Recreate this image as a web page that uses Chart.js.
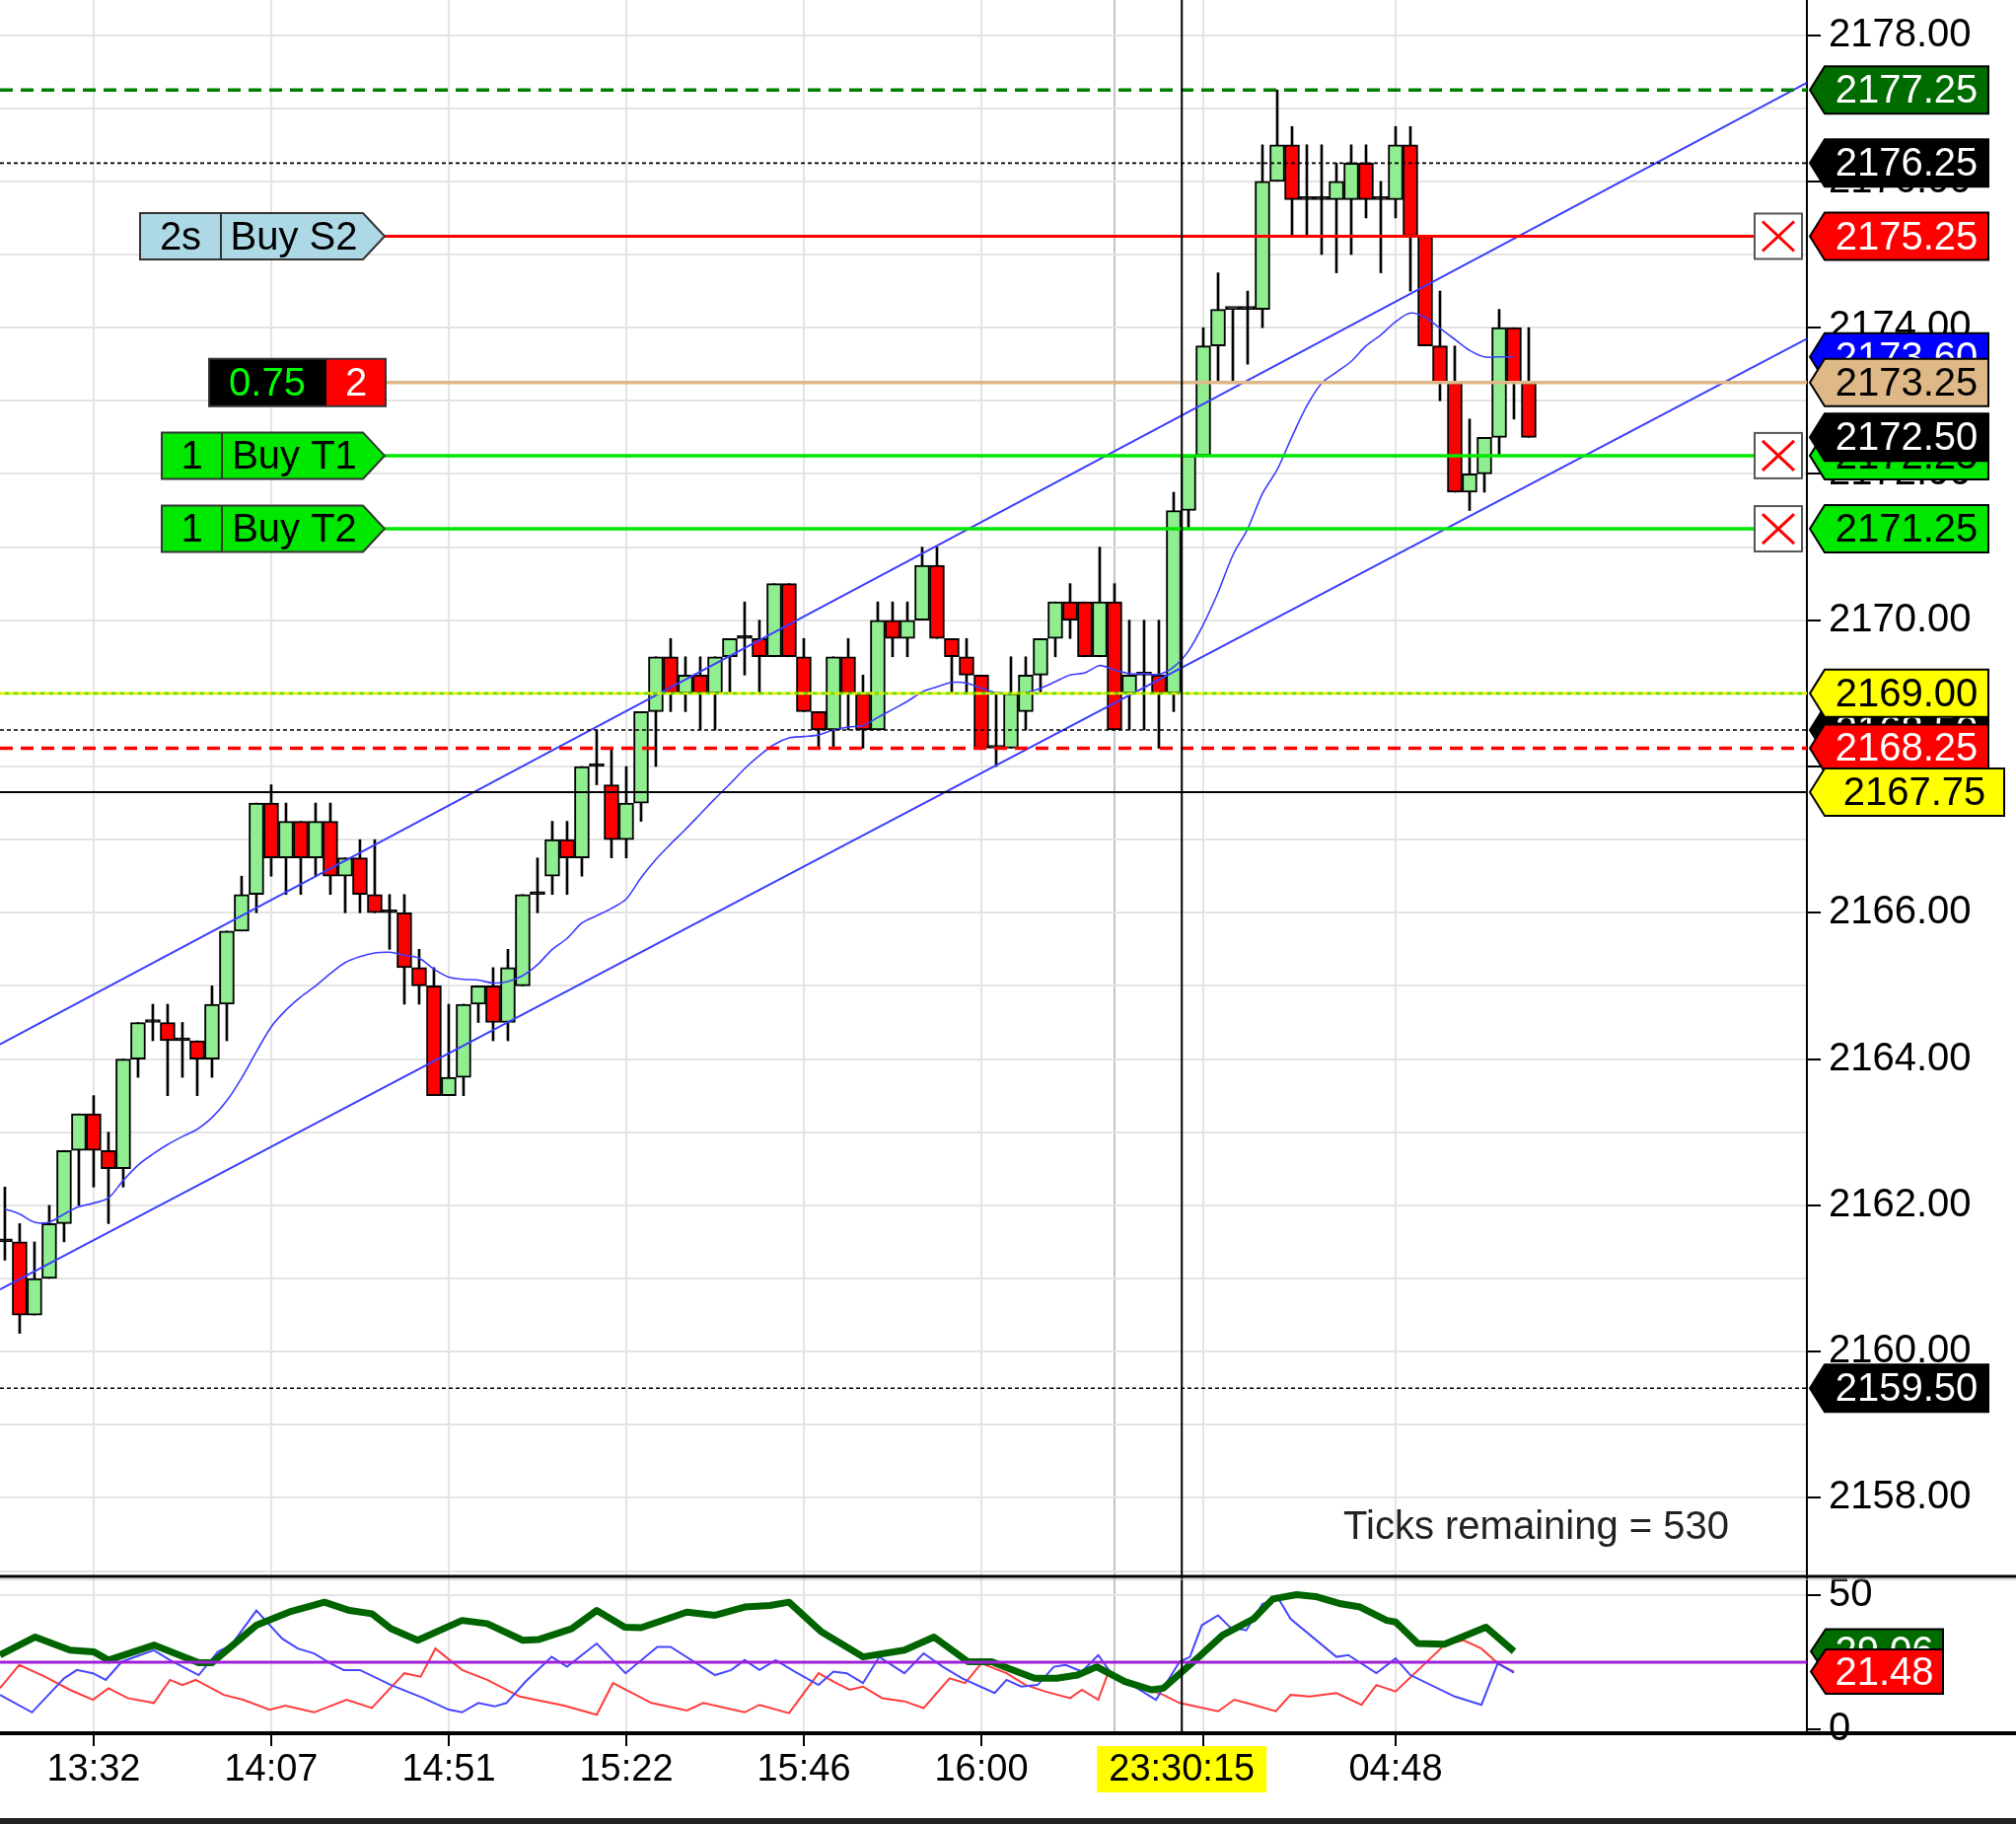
<!DOCTYPE html>
<html>
<head>
<meta charset="utf-8">
<title>ES tick chart</title>
<script src="https://cdn.jsdelivr.net/npm/chart.js@4.4.1/dist/chart.umd.min.js"></script>
<style>
  html, body { margin: 0; padding: 0; background: #fff; }
  #wrap { width: 2044px; height: 1849px; position: relative; }
</style>
</head>
<body>
<div id="wrap"><canvas id="chart"></canvas></div>
<script>
"use strict";

// bars, index 0 is the one cut by the left edge
const opens = [
  2161.5, 2161.5, 2160.5, 2161.0, 2161.75, 2162.75, 2163.25, 2162.75, 2162.5, 2164.0,
  2164.5, 2164.5, 2164.25, 2164.25, 2164.0, 2164.75, 2165.75, 2166.25, 2167.5, 2166.75,
  2167.25, 2166.75, 2167.25, 2166.5, 2166.75, 2166.25, 2166.0, 2166.0, 2165.25, 2165.0,
  2163.5, 2163.75, 2164.75, 2165.0, 2164.5, 2165.0, 2166.25, 2166.5, 2167.0, 2166.75,
  2168.0, 2167.75, 2167.0, 2167.5, 2168.75, 2169.5, 2169.0, 2169.25, 2169.0, 2169.5,
  2169.75, 2169.75, 2169.5, 2170.5, 2169.5, 2168.75, 2168.5, 2169.5, 2169.0, 2168.5,
  2170.0, 2169.75, 2170.0, 2170.75, 2169.75, 2169.5, 2169.25, 2168.25, 2168.25, 2168.75,
  2169.25, 2169.75, 2170.25, 2170.25, 2169.5, 2170.25, 2169.0, 2169.25, 2169.25, 2169.0,
  2171.5, 2172.25, 2173.75, 2174.25, 2174.25, 2174.25, 2176.0, 2176.5, 2175.75, 2175.75,
  2175.75, 2175.75, 2176.25, 2175.75, 2175.75, 2176.5, 2175.25, 2173.75, 2173.25, 2171.75,
  2172.0, 2172.5, 2174.0, 2173.25
];
const highs = [
  2162.25, 2161.75, 2161.5, 2162.0, 2162.75, 2163.25, 2163.5, 2163.0, 2164.0, 2164.5,
  2164.75, 2164.75, 2164.5, 2164.25, 2165.0, 2165.75, 2166.5, 2167.5, 2167.75, 2167.5,
  2167.25, 2167.5, 2167.5, 2166.75, 2167.0, 2167.0, 2166.25, 2166.25, 2165.5, 2165.25,
  2164.75, 2164.75, 2165.0, 2165.25, 2165.5, 2166.25, 2166.75, 2167.25, 2167.25, 2168.0,
  2168.5, 2168.25, 2168.0, 2168.75, 2169.5, 2169.75, 2169.5, 2169.5, 2169.5, 2169.75,
  2170.25, 2170.0, 2170.5, 2170.5, 2169.75, 2168.75, 2169.5, 2169.75, 2169.25, 2170.25,
  2170.25, 2170.25, 2171.0, 2171.0, 2169.75, 2169.75, 2169.25, 2169.0, 2169.5, 2169.5,
  2169.75, 2170.25, 2170.5, 2170.25, 2171.0, 2170.5, 2170.0, 2170.0, 2170.0, 2171.75,
  2172.25, 2174.0, 2174.75, 2174.25, 2174.5, 2176.5, 2177.25, 2176.75, 2176.5, 2176.5,
  2176.25, 2176.5, 2176.5, 2176.0, 2176.75, 2176.75, 2175.25, 2174.5, 2173.75, 2172.75,
  2172.5, 2174.25, 2174.0, 2174.0
];
const lows = [
  2161.25, 2160.25, 2160.5, 2161.0, 2161.5, 2162.0, 2162.25, 2161.75, 2162.25, 2163.75,
  2164.25, 2163.5, 2163.75, 2163.5, 2163.75, 2164.25, 2165.75, 2166.0, 2166.5, 2166.25,
  2166.25, 2166.5, 2166.25, 2166.0, 2166.0, 2166.0, 2165.5, 2164.75, 2164.75, 2163.5,
  2163.5, 2163.5, 2164.5, 2164.25, 2164.25, 2165.0, 2166.0, 2166.25, 2166.25, 2166.5,
  2167.75, 2166.75, 2166.75, 2167.25, 2168.0, 2168.75, 2168.75, 2168.5, 2168.5, 2169.0,
  2169.25, 2169.0, 2169.5, 2169.5, 2168.75, 2168.25, 2168.25, 2168.5, 2168.25, 2168.5,
  2169.5, 2169.5, 2170.0, 2169.75, 2169.0, 2169.0, 2168.25, 2168.0, 2168.25, 2168.5,
  2169.0, 2169.5, 2169.75, 2169.5, 2169.5, 2168.5, 2168.5, 2168.5, 2168.25, 2168.75,
  2171.25, 2172.25, 2173.25, 2173.25, 2173.5, 2174.0, 2176.0, 2175.25, 2175.25, 2175.0,
  2174.75, 2175.0, 2175.5, 2174.75, 2175.5, 2174.5, 2173.75, 2173.0, 2171.75, 2171.5,
  2171.75, 2172.25, 2172.75, 2172.5
];
const closes = [
  2161.5, 2160.5, 2161.0, 2161.75, 2162.75, 2163.25, 2162.75, 2162.5, 2164.0, 2164.5,
  2164.5, 2164.25, 2164.25, 2164.0, 2164.75, 2165.75, 2166.25, 2167.5, 2166.75, 2167.25,
  2166.75, 2167.25, 2166.5, 2166.75, 2166.25, 2166.0, 2166.0, 2165.25, 2165.0, 2163.5,
  2163.75, 2164.75, 2165.0, 2164.5, 2165.25, 2166.25, 2166.25, 2167.0, 2166.75, 2168.0,
  2168.0, 2167.0, 2167.5, 2168.75, 2169.5, 2169.0, 2169.25, 2169.0, 2169.5, 2169.75,
  2169.75, 2169.5, 2170.5, 2169.5, 2168.75, 2168.5, 2169.5, 2169.0, 2168.5, 2170.0,
  2169.75, 2170.0, 2170.75, 2169.75, 2169.5, 2169.25, 2168.25, 2168.25, 2169.0, 2169.25,
  2169.75, 2170.25, 2170.0, 2169.5, 2170.25, 2168.5, 2169.25, 2169.25, 2169.0, 2171.5,
  2172.25, 2173.75, 2174.25, 2174.25, 2174.25, 2176.0, 2176.5, 2175.75, 2175.75, 2175.75,
  2176.0, 2176.25, 2175.75, 2175.75, 2176.5, 2175.25, 2173.75, 2173.25, 2171.75, 2172.0,
  2172.5, 2174.0, 2173.25, 2172.5
];

// blue average, one value per bar
const maVals = [
  2161.95, 2161.88, 2161.77, 2161.77, 2161.88, 2161.98, 2162.03, 2162.1, 2162.34, 2162.55,
  2162.7, 2162.83, 2162.94, 2163.04, 2163.2, 2163.43, 2163.74, 2164.1, 2164.44, 2164.67,
  2164.85, 2165.0, 2165.17, 2165.32, 2165.4, 2165.45, 2165.46, 2165.42, 2165.38, 2165.23,
  2165.12, 2165.09, 2165.08, 2165.04, 2165.06, 2165.14, 2165.29, 2165.5, 2165.65, 2165.86,
  2165.96, 2166.06, 2166.19, 2166.48, 2166.73, 2166.94, 2167.14, 2167.35, 2167.56, 2167.76,
  2167.97, 2168.15, 2168.3, 2168.39, 2168.41, 2168.43, 2168.5, 2168.54, 2168.56, 2168.67,
  2168.78, 2168.89, 2169.02, 2169.09, 2169.15, 2169.14, 2169.07, 2169.01, 2169.0, 2169.01,
  2169.07, 2169.16, 2169.25, 2169.28, 2169.38, 2169.32, 2169.27, 2169.27, 2169.26, 2169.36,
  2169.58, 2169.94, 2170.38, 2170.89, 2171.25, 2171.73, 2172.06, 2172.51, 2172.93, 2173.24,
  2173.39, 2173.54, 2173.75, 2173.9, 2174.08, 2174.2, 2174.14, 2173.99, 2173.84, 2173.69,
  2173.6, 2173.6, 2173.6
];

// regression channel, two ends each
const channelX = [-0.33, 121.8];
const channelUpper = [2164.2, 2177.35];
const channelLower = [2160.85, 2173.85];

// time axis
const timeTickIdx = [6, 18, 30, 42, 54, 66, 75, 81, 94];
const timeTickText = ["13:32", "14:07", "14:51", "15:22", "15:46", "16:00", "", "", "04:48"];

// crosshair
const crossIdx = 79.55;
const crossPrice = 2167.65;
const crossPriceText = "2167.75";
const crossTimeText = "23:30:15";

// lower panel: ADX, +DI, -DI vertices (bar index, value)
const adxX = [-0.33, 2.05, 4.4, 6.0, 7.0, 10.1, 13.1, 14.0, 17.0, 19.2, 21.6, 23.3, 24.8, 26.1, 27.9, 30.9,
  32.6, 35.0, 36.1, 38.3, 40.0, 41.9, 43.0, 46.1, 48.0, 50.0, 51.7, 53.0, 55.2, 58.0, 60.8, 62.8, 65.1, 66.7,
  67.7, 69.6, 71.1, 72.5, 73.8, 75.7, 77.5, 78.3, 80.7, 82.3, 84.4, 85.7, 87.3, 88.6, 90.3, 91.6, 93.4, 94.0,
  95.5, 97.3, 100.1, 102.0];
const adxY = [27.7, 34.4, 29.5, 28.9, 25.8, 31.4, 24.8, 24.8, 38.8, 43.7, 47.4, 44.3, 43.1, 37.5, 33.2, 40.6,
  39.4, 33.2, 33.5, 37.5, 44.3, 38.1, 37.9, 43.7, 42.5, 45.6, 46.2, 47.4, 36.3, 27.0, 29.5, 34.4, 25.2, 25.2,
  23.0, 19.0, 19.0, 20.2, 23.3, 17.8, 14.7, 15.3, 27.0, 35.1, 41.2, 48.6, 50.2, 49.5, 46.8, 45.6, 40.6, 40.0,
  32.0, 31.7, 38.1, 29.06];
const plusDiX = [-0.33, 1.83, 4.0, 4.87, 5.95, 6.82, 7.9, 10.07, 11.16, 13.1, 14.4, 15.3, 17.0, 18.75, 19.8,
  20.9, 22.0, 22.9, 24.0, 26.1, 28.3, 30.0, 30.9, 32.0, 33.1, 33.9, 35.2, 36.96, 38.0, 40.0, 41.95, 44.1, 45.0,
  48.0, 49.1, 50.0, 51.0, 52.1, 53.4, 55.0, 56.0, 56.9, 58.0, 59.1, 60.8, 62.1, 63.4, 64.7, 66.9, 67.7, 68.7,
  69.8, 70.9, 71.7, 72.8, 73.9, 74.7, 77.8, 79.4, 80.1, 80.9, 82.0, 82.8, 83.9, 85.0, 86.1, 86.9, 90.0, 90.8,
  92.7, 94.0, 95.0, 98.0, 99.8, 100.9, 102.0];
const plusDiY = [12.8, 6.3, 19.0, 22.1, 20.9, 18.4, 25.2, 29.5, 25.8, 20.2, 28.9, 31.4, 44.3, 33.8, 30.1,
  28.3, 24.6, 22.1, 22.1, 16.5, 11.6, 7.3, 6.3, 9.8, 8.5, 9.8, 17.8, 27.0, 23.3, 32.0, 20.9, 30.7, 30.7,
  20.2, 22.1, 25.8, 22.1, 25.8, 21.5, 16.5, 21.5, 20.9, 17.2, 27.0, 20.9, 28.3, 23.3, 19.0, 13.5, 18.4, 15.9,
  16.5, 23.3, 24.0, 21.5, 27.7, 21.5, 11.0, 25.2, 27.0, 38.8, 42.5, 38.1, 36.9, 46.8, 48.6, 41.2, 27.0, 27.7,
  20.9, 26.4, 20.2, 12.2, 9.1, 24.6, 21.1];
const minusDiX = [-0.33, 0.97, 2.7, 4.4, 5.95, 7.0, 8.3, 10.07, 11.16, 12.0, 12.9, 14.8, 16.1, 17.9, 18.96,
  20.9, 23.1, 24.8, 27.0, 28.1, 29.1, 30.9, 32.6, 34.8, 37.8, 40.0, 41.1, 43.7, 46.1, 47.2, 50.0, 51.0, 53.0,
  55.0, 56.0, 57.1, 58.0, 59.3, 60.8, 62.1, 63.85, 64.9, 66.0, 67.7, 69.0, 70.3, 72.0, 72.8, 73.9, 74.6, 76.4,
  78.3, 79.4, 82.0, 83.1, 84.4, 85.9, 86.9, 88.2, 90.0, 91.7, 92.7, 94.0, 97.3, 98.6, 99.8, 100.9, 102.0];
const minusDiY = [15.3, 24.0, 19.6, 14.7, 11.0, 15.3, 11.6, 9.8, 18.4, 16.5, 18.4, 12.8, 11.0, 7.3, 8.8,
  6.3, 11.0, 7.9, 20.9, 19.6, 30.1, 22.1, 18.4, 12.2, 8.8, 5.4, 17.2, 9.8, 7.0, 9.8, 6.3, 9.1, 6.0,
  20.9, 17.8, 14.7, 15.9, 11.6, 10.4, 7.9, 19.0, 17.2, 24.6, 20.9, 16.5, 14.1, 11.6, 14.7, 11.0, 21.5, 16.5,
  12.8, 9.8, 6.7, 11.0, 9.1, 6.7, 12.8, 12.2, 13.5, 9.1, 16.5, 14.1, 31.4, 33.2, 30.1, 24.6, 21.48];
const dmiLevel = 25;
const dmiTicks = [0, 50];

// horizontal price levels
const levelPrices = [2177.25, 2176.25, 2169.00, 2168.50, 2168.25, 2159.50];
// working orders: S2 stop, position, T1, T2
const orderPrices = [2175.25, 2173.25, 2172.25, 2171.25];
// right hand price tags, in drawing order
const tagPrices = [2177.25, 2176.25, 2175.25, 2173.60, 2173.25, 2172.25, 2172.50, 2171.25, 2168.50, 2169.00, 2168.25, 2159.50];
const dmiTagValues = [29.06, 21.48];
const ticksRemaining = 530;

const FONT = '"Liberation Sans", Arial, Helvetica, sans-serif';
Chart.defaults.font.family = FONT;
Chart.defaults.color = "#000";

const levelStyles = [
  { color: "#008000", width: 3.5, dash: [13, 8] },
  { color: "#000000", width: 1.6, dash: [4, 3] },
  { color: "#e4f000", width: 2.6, dash: [5, 4], under: "#66dd00" },
  { color: "#000000", width: 1.6, dash: [4, 3] },
  { color: "#ff0000", width: 3.5, dash: [13, 8] },
  { color: "#000000", width: 1.6, dash: [4, 3] }
];
const tagStyles = [
  ["#006c00", "#fff"], ["#000", "#fff"], ["#ff0000", "#fff"], ["#0000ff", "#fff"],
  ["#deb887", "#000"], ["#00e800", "#000"], ["#000", "#fff"], ["#00e800", "#000"],
  ["#000", "#fff"], ["#ffff00", "#000"], ["#ff0000", "#fff"], ["#000", "#fff"]
];

function hLine(c, x0, x1, y, color, width, dash, offset) {
  c.save();
  c.beginPath();
  c.setLineDash(dash || []);
  c.lineDashOffset = offset || 0;
  c.strokeStyle = color;
  c.lineWidth = width;
  c.moveTo(x0, y);
  c.lineTo(x1, y);
  c.stroke();
  c.restore();
}

function priceTag(c, x, y, text, bg, fg, w, h) {
  const tip = 15;
  c.save();
  c.beginPath();
  c.moveTo(x, y);
  c.lineTo(x + tip, y - h / 2);
  c.lineTo(x + w, y - h / 2);
  c.lineTo(x + w, y + h / 2);
  c.lineTo(x + tip, y + h / 2);
  c.closePath();
  c.fillStyle = bg;
  c.fill();
  c.lineWidth = 2;
  c.strokeStyle = "#000";
  c.stroke();
  c.fillStyle = fg;
  c.font = "40px " + FONT;
  c.textAlign = "center";
  c.textBaseline = "middle";
  c.fillText(text, x + tip + (w - tip) / 2, y + 2);
  c.restore();
}

function orderTag(c, y, x0, split, tip, bg, left, right) {
  const h = 47, corner = tip - 22;
  c.save();
  c.beginPath();
  c.moveTo(x0, y - h / 2);
  c.lineTo(corner, y - h / 2);
  c.lineTo(tip, y);
  c.lineTo(corner, y + h / 2);
  c.lineTo(x0, y + h / 2);
  c.closePath();
  c.fillStyle = bg;
  c.fill();
  c.lineWidth = 2;
  c.strokeStyle = "#333";
  c.stroke();
  c.beginPath();
  c.moveTo(split, y - h / 2);
  c.lineTo(split, y + h / 2);
  c.stroke();
  c.fillStyle = "#000";
  c.font = "40px " + FONT;
  c.textAlign = "center";
  c.textBaseline = "middle";
  c.fillText(left, (x0 + split) / 2, y + 2);
  c.fillText(right, (split + corner) / 2 + 2, y + 2);
  c.restore();
}

function cancelBox(c, x, y) {
  const w = 48, h = 46, p = 8;
  c.save();
  c.fillStyle = "#fff";
  c.fillRect(x, y - h / 2, w, h);
  c.lineWidth = 2;
  c.strokeStyle = "#555";
  c.strokeRect(x, y - h / 2, w, h);
  c.strokeStyle = "#ff0000";
  c.lineWidth = 3;
  c.beginPath();
  c.moveTo(x + p, y - h / 2 + p);
  c.lineTo(x + w - p, y + h / 2 - p);
  c.moveTo(x + w - p, y - h / 2 + p);
  c.lineTo(x + p, y + h / 2 - p);
  c.stroke();
  c.restore();
}

const overlay = {
  id: "overlay",
  beforeDraw(chart) {
    const c = chart.ctx;
    c.save();
    c.fillStyle = "#fff";
    c.fillRect(0, 0, chart.width, chart.height);
    c.restore();
  },
  afterDatasetsDraw(chart) {
    const c = chart.ctx, area = chart.chartArea;
    const ys = chart.scales.y, y2 = chart.scales.y2;
    hLine(c, area.left, area.right, y2.getPixelForValue(dmiLevel), "#a020d8", 3);
    levelPrices.forEach((p, i) => {
      const s = levelStyles[i], y = ys.getPixelForValue(p);
      if (s.under) hLine(c, area.left, area.right, y, s.under, s.width, s.dash, 4.5);
      hLine(c, area.left, area.right, y, s.color, s.width, s.dash);
    });
    const lineStart = 390, boxX = 1779;
    hLine(c, lineStart, boxX, ys.getPixelForValue(orderPrices[0]), "#ff0000", 3);
    hLine(c, lineStart, area.right, ys.getPixelForValue(orderPrices[1]), "#deb887", 3.5);
    hLine(c, lineStart, boxX, ys.getPixelForValue(orderPrices[2]), "#00e800", 3.5);
    hLine(c, lineStart, boxX, ys.getPixelForValue(orderPrices[3]), "#00e800", 3.5);
  },
  afterDraw(chart) {
    const c = chart.ctx, area = chart.chartArea;
    const xs = chart.scales.x, ys = chart.scales.y, y2 = chart.scales.y2;
    const W = chart.width;

    // order tags on the left
    orderTag(c, ys.getPixelForValue(orderPrices[0]), 142, 224, 390, "#add8e6", "2s", "Buy S2");
    orderTag(c, ys.getPixelForValue(orderPrices[2]), 164, 225, 390, "#00e800", "1", "Buy T1");
    orderTag(c, ys.getPixelForValue(orderPrices[3]), 164, 225, 390, "#00e800", "1", "Buy T2");
    const py = ys.getPixelForValue(orderPrices[1]);
    c.save();
    c.fillStyle = "#000";
    c.fillRect(212, py - 24, 119, 48);
    c.fillStyle = "#ff0000";
    c.fillRect(331, py - 24, 60, 48);
    c.strokeStyle = "#333";
    c.lineWidth = 2;
    c.strokeRect(212, py - 24, 179, 48);
    c.font = "40px " + FONT;
    c.textAlign = "center";
    c.textBaseline = "middle";
    c.fillStyle = "#00ff00";
    c.fillText((orderPrices[1] - 2172.50).toFixed(2), 271, py + 2);
    c.fillStyle = "#fff";
    c.fillText("2", 361, py + 2);
    c.restore();

    [orderPrices[0], orderPrices[2], orderPrices[3]].forEach(p => cancelBox(c, 1779, ys.getPixelForValue(p)));

    // crosshair
    const cx = xs.getPixelForValue(crossIdx), cy = ys.getPixelForValue(crossPrice);
    c.save();
    c.strokeStyle = "#000";
    c.lineWidth = 2;
    c.beginPath();
    c.moveTo(cx, area.top);
    c.lineTo(cx, area.bottom);
    c.moveTo(area.left, cy);
    c.lineTo(area.right, cy);
    c.stroke();
    c.restore();

    // panel separators and bottom strip
    hLine(c, 0, W, y2.top + 1, "#000", 3);
    hLine(c, 0, W, y2.top + 4, "#bbb", 1);
    hLine(c, 0, W, area.bottom, "#000", 4);
    c.save();
    c.fillStyle = "#222";
    c.fillRect(0, chart.height - 6, W, 6);
    c.restore();

    // price tags
    const tx = area.right + 3;
    tagPrices.forEach((p, i) => {
      priceTag(c, tx, ys.getPixelForValue(p), p.toFixed(2), tagStyles[i][0], tagStyles[i][1], 181, 48);
    });
    priceTag(c, tx, cy, crossPriceText, "#ffff00", "#000", 197, 48);
    priceTag(c, tx + 1, y2.getPixelForValue(dmiTagValues[0]), dmiTagValues[0].toFixed(2), "#006c00", "#fff", 134, 45);
    priceTag(c, tx + 1, y2.getPixelForValue(dmiTagValues[1]), dmiTagValues[1].toFixed(2), "#ff0000", "#fff", 134, 45);

    // crosshair time
    c.save();
    c.fillStyle = "#ffff00";
    c.fillRect(cx - 86, area.bottom + 13, 172, 47);
    c.fillStyle = "#000";
    c.font = "38px " + FONT;
    c.textAlign = "center";
    c.textBaseline = "middle";
    c.fillText(crossTimeText, cx, area.bottom + 38);
    c.restore();

    // ticks remaining
    c.save();
    c.fillStyle = "#222";
    c.font = "40px " + FONT;
    c.textAlign = "right";
    c.textBaseline = "middle";
    c.fillText("Ticks remaining = " + ticksRemaining, 1753, ys.bottom - 48);
    c.restore();
  }
};

const barIdx = opens.map((o, i) => i);
const pts = (xs, ys) => xs.map((x, i) => ({ x: x, y: ys[i] }));

const ctx = document.getElementById("chart");
new Chart(ctx, {
  type: "bar",
  data: {
    datasets: [
      {
        label: "wick",
        data: barIdx.map(i => ({ x: i, y: [lows[i], highs[i]] })),
        backgroundColor: "#000",
        borderWidth: 0,
        grouped: false,
        maxBarThickness: 2,
        categoryPercentage: 1,
        barPercentage: 1,
        order: 6
      },
      {
        label: "body",
        data: barIdx.map(i => ({ x: i, y: [opens[i], closes[i]] })),
        backgroundColor: c => {
          const i = c.dataIndex;
          if (opens[i] === closes[i]) return "#000";
          return closes[i] > opens[i] ? "#90ee90" : "#ff0000";
        },
        borderColor: "#000",
        borderWidth: 2,
        borderSkipped: false,
        grouped: false,
        minBarLength: 3,
        categoryPercentage: 1,
        barPercentage: 1,
        order: 5
      },
      {
        type: "line", label: "avg", data: pts(barIdx.slice(0, maVals.length), maVals),
        borderColor: "#3c3cff", borderWidth: 1.6, pointRadius: 0, tension: 0.3, order: 3
      },
      {
        type: "line", label: "upper", data: pts(channelX, channelUpper),
        borderColor: "#3c3cff", borderWidth: 2, pointRadius: 0, order: 2
      },
      {
        type: "line", label: "lower", data: pts(channelX, channelLower),
        borderColor: "#3c3cff", borderWidth: 2, pointRadius: 0, order: 2
      },
      {
        type: "line", label: "+DI", yAxisID: "y2", data: pts(plusDiX, plusDiY),
        borderColor: "#4646ff", borderWidth: 2, pointRadius: 0, order: 4
      },
      {
        type: "line", label: "-DI", yAxisID: "y2", data: pts(minusDiX, minusDiY),
        borderColor: "#ff3c3c", borderWidth: 2, pointRadius: 0, order: 4
      },
      {
        type: "line", label: "ADX", yAxisID: "y2", data: pts(adxX, adxY),
        borderColor: "#006400", borderWidth: 7, pointRadius: 0, borderJoinStyle: "round", order: 1
      }
    ]
  },
  options: {
    responsive: true,
    maintainAspectRatio: false,
    devicePixelRatio: 1,
    animation: false,
    layout: { padding: 0 },
    plugins: { legend: { display: false }, tooltip: { enabled: false } },
    scales: {
      x: {
        type: "linear",
        min: channelX[0],
        max: channelX[1],
        offset: false,
        afterBuildTicks: a => { a.ticks = timeTickIdx.map(v => ({ value: v })); },
        afterFit: a => { a.height = 92; a.paddingLeft = 0; a.paddingRight = 0; },
        grid: {
          offset: false,
          lineWidth: 2,
          color: c => (c.tick && c.tick.value === 75 ? "#c4c4c4" : "#e4e4e4"),
          tickColor: c => (c.tick && c.tick.value === 75 ? "rgba(0,0,0,0)" : "#000"),
          tickLength: 13,
          tickWidth: 2
        },
        border: { display: false },
        ticks: {
          autoSkip: false,
          maxRotation: 0,
          padding: 2,
          font: { size: 38 },
          color: "#000",
          callback: v => {
            const k = timeTickIdx.indexOf(v);
            return k < 0 ? "" : timeTickText[k];
          }
        }
      },
      y: {
        type: "linear",
        position: "right",
        stack: "panes",
        stackWeight: 1597,
        min: 2156.94,
        max: 2178.48,
        afterFit: a => { a.width = 212; a.paddingTop = 0; a.paddingBottom = 0; },
        grid: {
          lineWidth: 2,
          color: "#e4e4e4",
          tickLength: 14,
          tickWidth: 2,
          tickColor: c => (c.tick && Math.round(c.tick.value) % 2 === 0 ? "#000" : "rgba(0,0,0,0)")
        },
        border: { color: "#000", width: 2 },
        ticks: {
          stepSize: 1,
          autoSkip: false,
          includeBounds: false,
          padding: 8,
          font: { size: 40 },
          color: "#000",
          callback: v => (Math.round(v) % 2 === 0 ? v.toFixed(2) : "")
        }
      },
      y2: {
        type: "linear",
        position: "right",
        stack: "panes",
        stackWeight: 160,
        min: -1.5,
        max: 57.4,
        afterBuildTicks: a => { a.ticks = dmiTicks.map(v => ({ value: v })); },
        afterFit: a => { a.width = 212; a.paddingTop = 0; a.paddingBottom = 0; },
        grid: {
          lineWidth: 2,
          color: c => (c.tick && c.tick.value === 50 ? "#e4e4e4" : "rgba(0,0,0,0)"),
          tickLength: 14,
          tickWidth: 2,
          tickColor: "#000"
        },
        border: { color: "#000", width: 2 },
        ticks: {
          autoSkip: false,
          padding: 8,
          font: { size: 40 },
          color: "#000",
          callback: v => String(v)
        }
      }
    }
  },
  plugins: [overlay]
});
</script>
</body>
</html>
